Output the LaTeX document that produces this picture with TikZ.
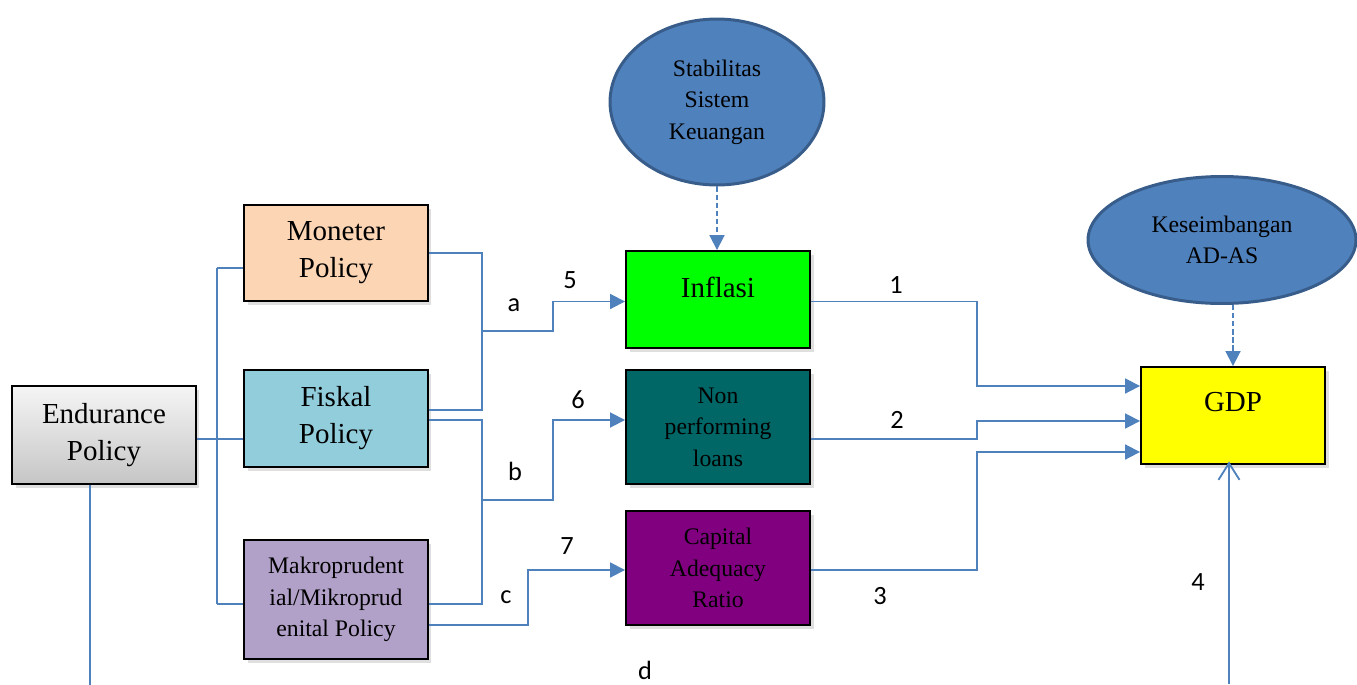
\documentclass[tikz,border=0pt]{standalone}
\usepackage{fontspec}
\setmainfont{Liberation Serif}
\newfontfamily\lblfont{Carlito}
\usepackage{tikz}
\usetikzlibrary{arrows.meta,shapes.geometric,shadows,calc}
\definecolor{linkblue}{HTML}{4F81BD}
\definecolor{ovalrim}{HTML}{385D8A}
\definecolor{peach}{HTML}{FCD5B5}
\definecolor{skyblue}{HTML}{92CDDC}
\definecolor{lilac}{HTML}{B1A0C7}
\definecolor{brightgreen}{HTML}{00FF00}
\definecolor{darkteal}{HTML}{006666}
\definecolor{plum}{HTML}{800080}
\definecolor{gdpyellow}{HTML}{FFFF00}
\tikzset{
  box/.style={rectangle,draw=black,line width=1.1pt,minimum width=3.68cm,align=center,
    inner sep=2pt,drop shadow={shadow xshift=2pt,shadow yshift=-2.5pt,opacity=0.25}},
  bigtext/.style={font=\fontsize{16.5}{21}\selectfont},
  smalltext/.style={font=\fontsize{13.5}{18}\selectfont},
  oval/.style={ellipse,draw=ovalrim,line width=1.7pt,fill=linkblue,align=center,inner sep=0pt,
    font=\fontsize{13.5}{18}\selectfont},
  link/.style={draw=linkblue,line width=1.05pt},
  arrowlink/.style={link,-{Triangle[length=8.5pt,width=8.5pt]},color=linkblue},
  dashlink/.style={arrowlink,dash pattern=on 3pt off 1.6pt},
  openlink/.style={link,-{Straight Barb[length=9.5pt,width=12pt,line width=1.05pt]},color=linkblue},
  lbl/.style={font=\lblfont\fontsize{15}{18}\selectfont,inner sep=0pt}
}
\begin{document}
\begin{tikzpicture}[x=0.02cm,y=-0.02cm]
  \useasboundingbox (0,0) rectangle (1357,684);
  % boxes
  \node[box,bigtext,minimum height=1.96cm,top color=gray!8,bottom color=gray!45] (endu) at (104,435) {Endurance\\Policy};
  \node[box,bigtext,minimum height=1.92cm,fill=peach] (mon) at (336,253) {Moneter\\Policy};
  \node[box,bigtext,minimum height=1.94cm,fill=skyblue] (fis) at (336,418.5) {Fiskal\\Policy};
  \node[box,smalltext,minimum height=2.38cm,fill=lilac] (mak) at (336,599.5) {Makroprudent\\ial/Mikroprud\\enital Policy};
  \node[box,minimum height=1.94cm,fill=brightgreen,
    label={[bigtext,yshift=7pt]center:Inflasi}] (infl) at (718,299.5) {};
  \node[box,smalltext,minimum height=2.28cm,fill=darkteal] (npl) at (718,427) {Non\\performing\\loans};
  \node[box,smalltext,minimum height=2.28cm,fill=plum] (car) at (718,568) {Capital\\Adequacy\\Ratio};
  \node[box,minimum height=1.94cm,fill=gdpyellow,
    label={[bigtext,yshift=7.5pt]center:GDP}] (gdp) at (1233,415.5) {};
  \node[oval,minimum width=4.28cm,minimum height=3.32cm] (stab) at (717,102) {Stabilitas\\Sistem\\Keuangan};
  \node[oval,minimum width=5.36cm,minimum height=2.54cm] (kes) at (1222,240) {Keseimbangan\\AD-AS};
  % left tree
  \coordinate (tt) at (217,268);
  \coordinate (tb) at (217,604);
  \coordinate (ef) at ($(endu.east)+(0,4)$);
  \draw[link] (tt) -- (tb);
  \draw[link] (tt) -- (tt -| mon.west);
  \draw[link] (tb) -- (tb -| mak.west);
  \draw[link] (ef) -- (ef -| fis.west);
  \draw[link] ($(endu.south)+(-14,0)$) -- ++(0,200);
  % policy to channels
  \coordinate (ja) at (482,331);
  \coordinate (jb) at (482,500);
  \draw[link] (mon.east) -| (ja);
  \draw[link] ($(fis.east)+(0,-8.5)$) -| (ja);
  \draw[arrowlink] (ja) -- ++(71,0) |- ($(infl.west)+(0,2)$);
  \draw[link] ($(fis.east)+(0,1.5)$) -| (jb);
  \draw[link] ($(mak.east)+(0,4.5)$) -| (jb);
  \draw[arrowlink] (jb) -- ++(71,0) |- ($(npl.west)+(0,-7)$);
  \draw[arrowlink] ($(mak.east)+(0,25.5)$) -- ++(99,0) |- ($(car.west)+(0,2)$);
  % channels to GDP
  \draw[arrowlink] ($(infl.east)+(0,2)$) -- ++(166,0) |- ($(gdp.west)+(0,-29.5)$);
  \draw[arrowlink] ($(npl.east)+(0,12)$) -- ++(166,0) |- ($(gdp.west)+(0,5.5)$);
  \draw[arrowlink] ($(car.east)+(0,2)$) -- ++(166,0) |- ($(gdp.west)+(0,36.5)$);
  \coordinate (gb) at (1229,684);
  \draw[openlink,shorten >=-2pt] (gb) -- (gb |- gdp.south);
  % ellipses
  \draw[dashlink] (stab.south) -- (stab.south |- infl.north);
  \draw[dashlink] (gdp.north |- kes.south) -- (gdp.north);
  % labels
  \node[lbl] (la) at (514,305) {a};
  \node[lbl] (l5) at (570,280) {5};
  \node[lbl] (lb) at (515,471) {b};
  \node[lbl] (l6) at (578,400) {6};
  \node[lbl] (lc) at (506,597) {c};
  \node[lbl] (l7) at (567,546) {7};
  \node[lbl] (l1) at (896,285) {1};
  \node[lbl] (l2) at (897,420) {2};
  \node[lbl] (l3) at (880,596) {3};
  \node[lbl] (l4) at (1198,582) {4};
  \node[lbl] (ld) at (645,670) {d};
\end{tikzpicture}
\end{document}
